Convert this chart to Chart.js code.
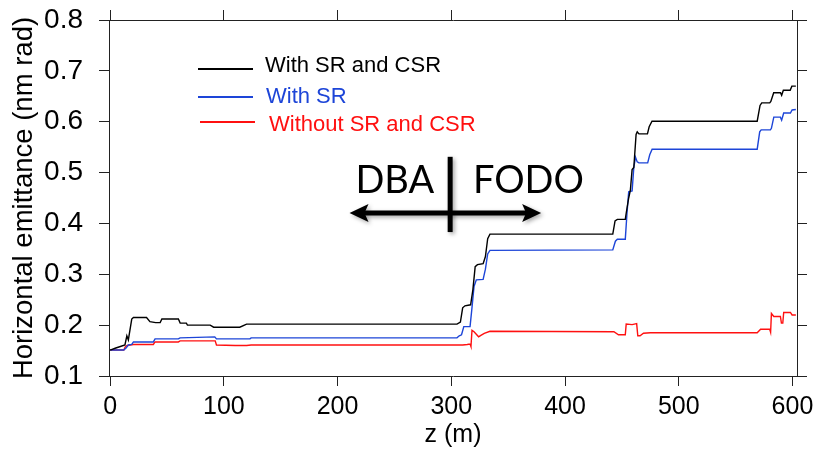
<!DOCTYPE html>
<html>
<head>
<meta charset="utf-8">
<script src="https://cdn.jsdelivr.net/npm/chart.js@4.4.1/dist/chart.umd.min.js"></script>
<style>
    html, body { margin: 0; padding: 0; background: #fff; }
    #wrap { width: 817px; height: 455px; }
</style>
</head>
<body>
<div id="wrap"><canvas id="emitChart" width="817" height="455"></canvas></div>
<script>
// axis ticks
const zTicks = [0, 100, 200, 300, 400, 500, 600];
const emitTicks = [0.1, 0.2, 0.3, 0.4, 0.5, 0.6, 0.7, 0.8];

const seriesLabels = ['With SR and CSR', 'With SR', 'Without SR and CSR'];
const seriesColors = ['#000000', '#1d45d8', '#ff1010'];

// With SR and CSR
const zSrCsr = [0, 5, 9, 13, 14.7, 16, 19, 20.5, 32, 35, 40, 44, 45.5, 60, 61.6, 67, 68, 88, 91, 114,
    120, 305, 308, 310, 312, 317, 319, 321, 323, 328, 330, 332, 334, 442, 444, 446, 453, 454, 456, 457.5,
    459, 460.5, 462.5, 463.5, 465, 472.5, 474, 476.5, 569, 571.5, 573, 580, 581, 583.5, 589.5, 590.5, 592, 598, 599.5, 603];
const emitSrCsr = [0.151, 0.155, 0.158, 0.161, 0.179, 0.171, 0.212, 0.215, 0.215, 0.207, 0.205, 0.205, 0.212, 0.212, 0.204, 0.204, 0.200, 0.200, 0.196, 0.196,
    0.202, 0.202, 0.206, 0.234, 0.238, 0.240, 0.27, 0.315, 0.319, 0.321, 0.335, 0.37, 0.379, 0.379, 0.405, 0.408, 0.408, 0.423, 0.45, 0.466,
    0.506, 0.51, 0.575, 0.580, 0.576, 0.576, 0.590, 0.601, 0.601, 0.632, 0.637, 0.637, 0.640, 0.657, 0.657, 0.652, 0.662, 0.662, 0.670, 0.670];

// With SR
const zSr = [0, 12, 14, 16, 19, 20.5, 38, 39.5, 60, 61.5, 92, 93.5, 123, 124, 305, 307, 309, 311, 316.5, 318,
    320, 322, 328, 330, 332, 334, 442, 444.3, 446, 453, 454.5, 456, 459, 460.5, 462, 463.5, 465, 472.7, 474.5, 476.6,
    569, 571.2, 572.5, 580.6, 581.5, 583.6, 589.4, 590.5, 592.3, 598.2, 599.7, 603];
const emitSr = [0.151, 0.151, 0.155, 0.161, 0.162, 0.167, 0.167, 0.173, 0.173, 0.175, 0.177, 0.173, 0.173, 0.175, 0.175, 0.179, 0.181, 0.197, 0.197, 0.23,
    0.276, 0.289, 0.290, 0.31, 0.34, 0.347, 0.348, 0.365, 0.369, 0.369, 0.42, 0.462, 0.464, 0.51, 0.530, 0.521, 0.519, 0.519, 0.535, 0.546,
    0.546, 0.580, 0.584, 0.584, 0.587, 0.609, 0.609, 0.603, 0.617, 0.617, 0.623, 0.624];

// Without SR and CSR
const zNone = [0, 12, 13.5, 15, 20.5, 38, 39.5, 60, 61.5, 92.4, 93.5, 110, 120, 124, 310, 314, 316.5, 317.3, 318.2, 320,
    324, 326, 329, 334, 443, 447, 453, 453.8, 459, 463, 464, 466, 469, 475, 569, 572, 580, 580.8, 581.5, 583.6,
    589.4, 590.3, 591.5, 592.3, 598.2, 599.7, 603];
const emitNone = [0.151, 0.151, 0.158, 0.160, 0.162, 0.162, 0.167, 0.167, 0.169, 0.169, 0.161, 0.160, 0.160, 0.161, 0.161, 0.162, 0.163, 0.158, 0.190, 0.187,
    0.177, 0.180, 0.184, 0.188, 0.187, 0.181, 0.181, 0.202, 0.201, 0.203, 0.179, 0.179, 0.184, 0.185, 0.185, 0.192, 0.192, 0.186, 0.223, 0.217,
    0.217, 0.204, 0.204, 0.225, 0.225, 0.220, 0.220];

const zSeries = [zSrCsr, zSr, zNone];
const emitSeries = [emitSrCsr, emitSr, emitNone];

const FRAME = '#222';
const SANS = '"Liberation Sans", Arial, Helvetica, sans-serif';

function toPoints(zs, ys) {
    return zs.map((z, i) => ({ x: z, y: ys[i] }));
}

// force the box sizes so the plot frame lands where the original has it
function fixSize(w, h) {
    return s => {
        if (w !== null) s.width = w;
        if (h !== null) s.height = h;
        s.paddingTop = 0;
        s.paddingBottom = 0;
        s.paddingLeft = 0;
        s.paddingRight = 0;
    };
}

// legend + DBA/FODO arrow drawn on top
const overlayPlugin = {
    id: 'overlay',
    afterDatasetsDraw(chart) {
        const ctx = chart.ctx;
        const xs = chart.scales.x;
        const ys = chart.scales.y;
        ctx.save();

        // legend
        const rows = [
            { lineY: 69, textY: 72, x0: 198, x1: 253, tx: 265 },
            { lineY: 97, textY: 103, x0: 198, x1: 253, tx: 266 },
            { lineY: 122, textY: 131, x0: 200, x1: 255, tx: 269 }
        ];
        ctx.font = '22px ' + SANS;
        ctx.textBaseline = 'alphabetic';
        ctx.textAlign = 'left';
        rows.forEach((r, i) => {
            ctx.strokeStyle = seriesColors[i];
            ctx.lineWidth = 2;
            ctx.beginPath();
            ctx.moveTo(r.x0, r.lineY);
            ctx.lineTo(r.x1, r.lineY);
            ctx.stroke();
            ctx.fillStyle = seriesColors[i];
            ctx.fillText(seriesLabels[i], r.tx, r.textY);
        });

        // DBA | FODO annotation
        const barX = xs.getPixelForValue(299);
        const arrY = ys.getPixelForValue(0.4205);
        const leftTip = xs.getPixelForValue(210.5);
        const rightTip = xs.getPixelForValue(379);

        ctx.shadowColor = 'rgba(0,0,0,0.35)';
        ctx.shadowBlur = 4;
        ctx.shadowOffsetX = 2;
        ctx.shadowOffsetY = 2;
        ctx.fillStyle = '#000';
        ctx.strokeStyle = '#000';

        ctx.lineWidth = 5;
        ctx.beginPath();
        ctx.moveTo(leftTip + 14, arrY);
        ctx.lineTo(rightTip - 14, arrY);
        ctx.stroke();

        const head = (tip, dir) => {
            ctx.beginPath();
            ctx.moveTo(tip, arrY);
            ctx.lineTo(tip - dir * 19, arrY - 9);
            ctx.lineTo(tip - dir * 15, arrY);
            ctx.lineTo(tip - dir * 19, arrY + 9);
            ctx.closePath();
            ctx.fill();
        };
        head(leftTip, -1);
        head(rightTip, 1);

        ctx.lineWidth = 5;
        ctx.beginPath();
        ctx.moveTo(barX, ys.getPixelForValue(0.531));
        ctx.lineTo(barX, ys.getPixelForValue(0.383));
        ctx.stroke();

        ctx.shadowColor = 'transparent';
        ctx.font = '38px Lato, "Open Sans", sans-serif';
        const baseY = ys.getPixelForValue(0.46);
        ctx.textAlign = 'right';
        ctx.fillText('DBA', xs.getPixelForValue(285), baseY);
        ctx.textAlign = 'left';
        ctx.fillText('FODO', xs.getPixelForValue(319), baseY);

        ctx.restore();
    }
};

const frameGrid = { drawOnChartArea: false, drawTicks: true, tickLength: 10, color: FRAME, lineWidth: 1 };
const frameBorder = { display: true, color: FRAME, width: 1 };

const ctx = document.getElementById('emitChart').getContext('2d');
new Chart(ctx, {
    type: 'line',
    data: {
        datasets: seriesLabels.map((label, i) => ({
            label: label,
            data: toPoints(zSeries[i], emitSeries[i]),
            borderColor: seriesColors[i],
            borderWidth: 1.4,
            pointRadius: 0,
            tension: 0,
            fill: false
        }))
    },
    options: {
        responsive: false,
        animation: false,
        layout: { padding: 0 },
        plugins: {
            legend: { display: false },
            tooltip: { enabled: false }
        },
        scales: {
            x: {
                type: 'linear',
                position: 'bottom',
                min: -1,
                max: 604,
                afterBuildTicks: s => { s.ticks = zTicks.map(v => ({ value: v })); },
                afterFit: fixSize(null, 79),
                grid: frameGrid,
                border: frameBorder,
                ticks: {
                    padding: 6,
                    color: '#000',
                    maxRotation: 0,
                    font: { family: SANS, size: 25 },
                    callback: v => String(v)
                },
                title: {
                    display: true,
                    text: 'z (m)',
                    color: '#000',
                    padding: { top: 0, bottom: 5 },
                    font: { family: SANS, size: 25 }
                }
            },
            x2: {
                type: 'linear',
                position: 'top',
                min: -1,
                max: 604,
                afterBuildTicks: s => { s.ticks = zTicks.map(v => ({ value: v })); },
                afterFit: fixSize(null, 20),
                grid: frameGrid,
                border: frameBorder,
                ticks: { display: false }
            },
            y: {
                type: 'linear',
                position: 'left',
                min: 0.1,
                max: 0.8,
                afterBuildTicks: s => { s.ticks = emitTicks.map(v => ({ value: v })); },
                afterFit: fixSize(109, null),
                grid: frameGrid,
                border: frameBorder,
                ticks: {
                    padding: 16,
                    color: '#000',
                    font: { family: SANS, size: 28 },
                    callback: v => Number(v).toFixed(1)
                },
                title: {
                    display: true,
                    text: 'Horizontal emittance (nm rad)',
                    color: '#000',
                    padding: { top: 8, bottom: 0 },
                    font: { family: SANS, size: 27.5 }
                }
            },
            y2: {
                type: 'linear',
                position: 'right',
                min: 0.1,
                max: 0.8,
                afterBuildTicks: s => { s.ticks = emitTicks.map(v => ({ value: v })); },
                afterFit: fixSize(20, null),
                grid: frameGrid,
                border: frameBorder,
                ticks: { display: false }
            }
        }
    },
    plugins: [overlayPlugin]
});
</script>
</body>
</html>
